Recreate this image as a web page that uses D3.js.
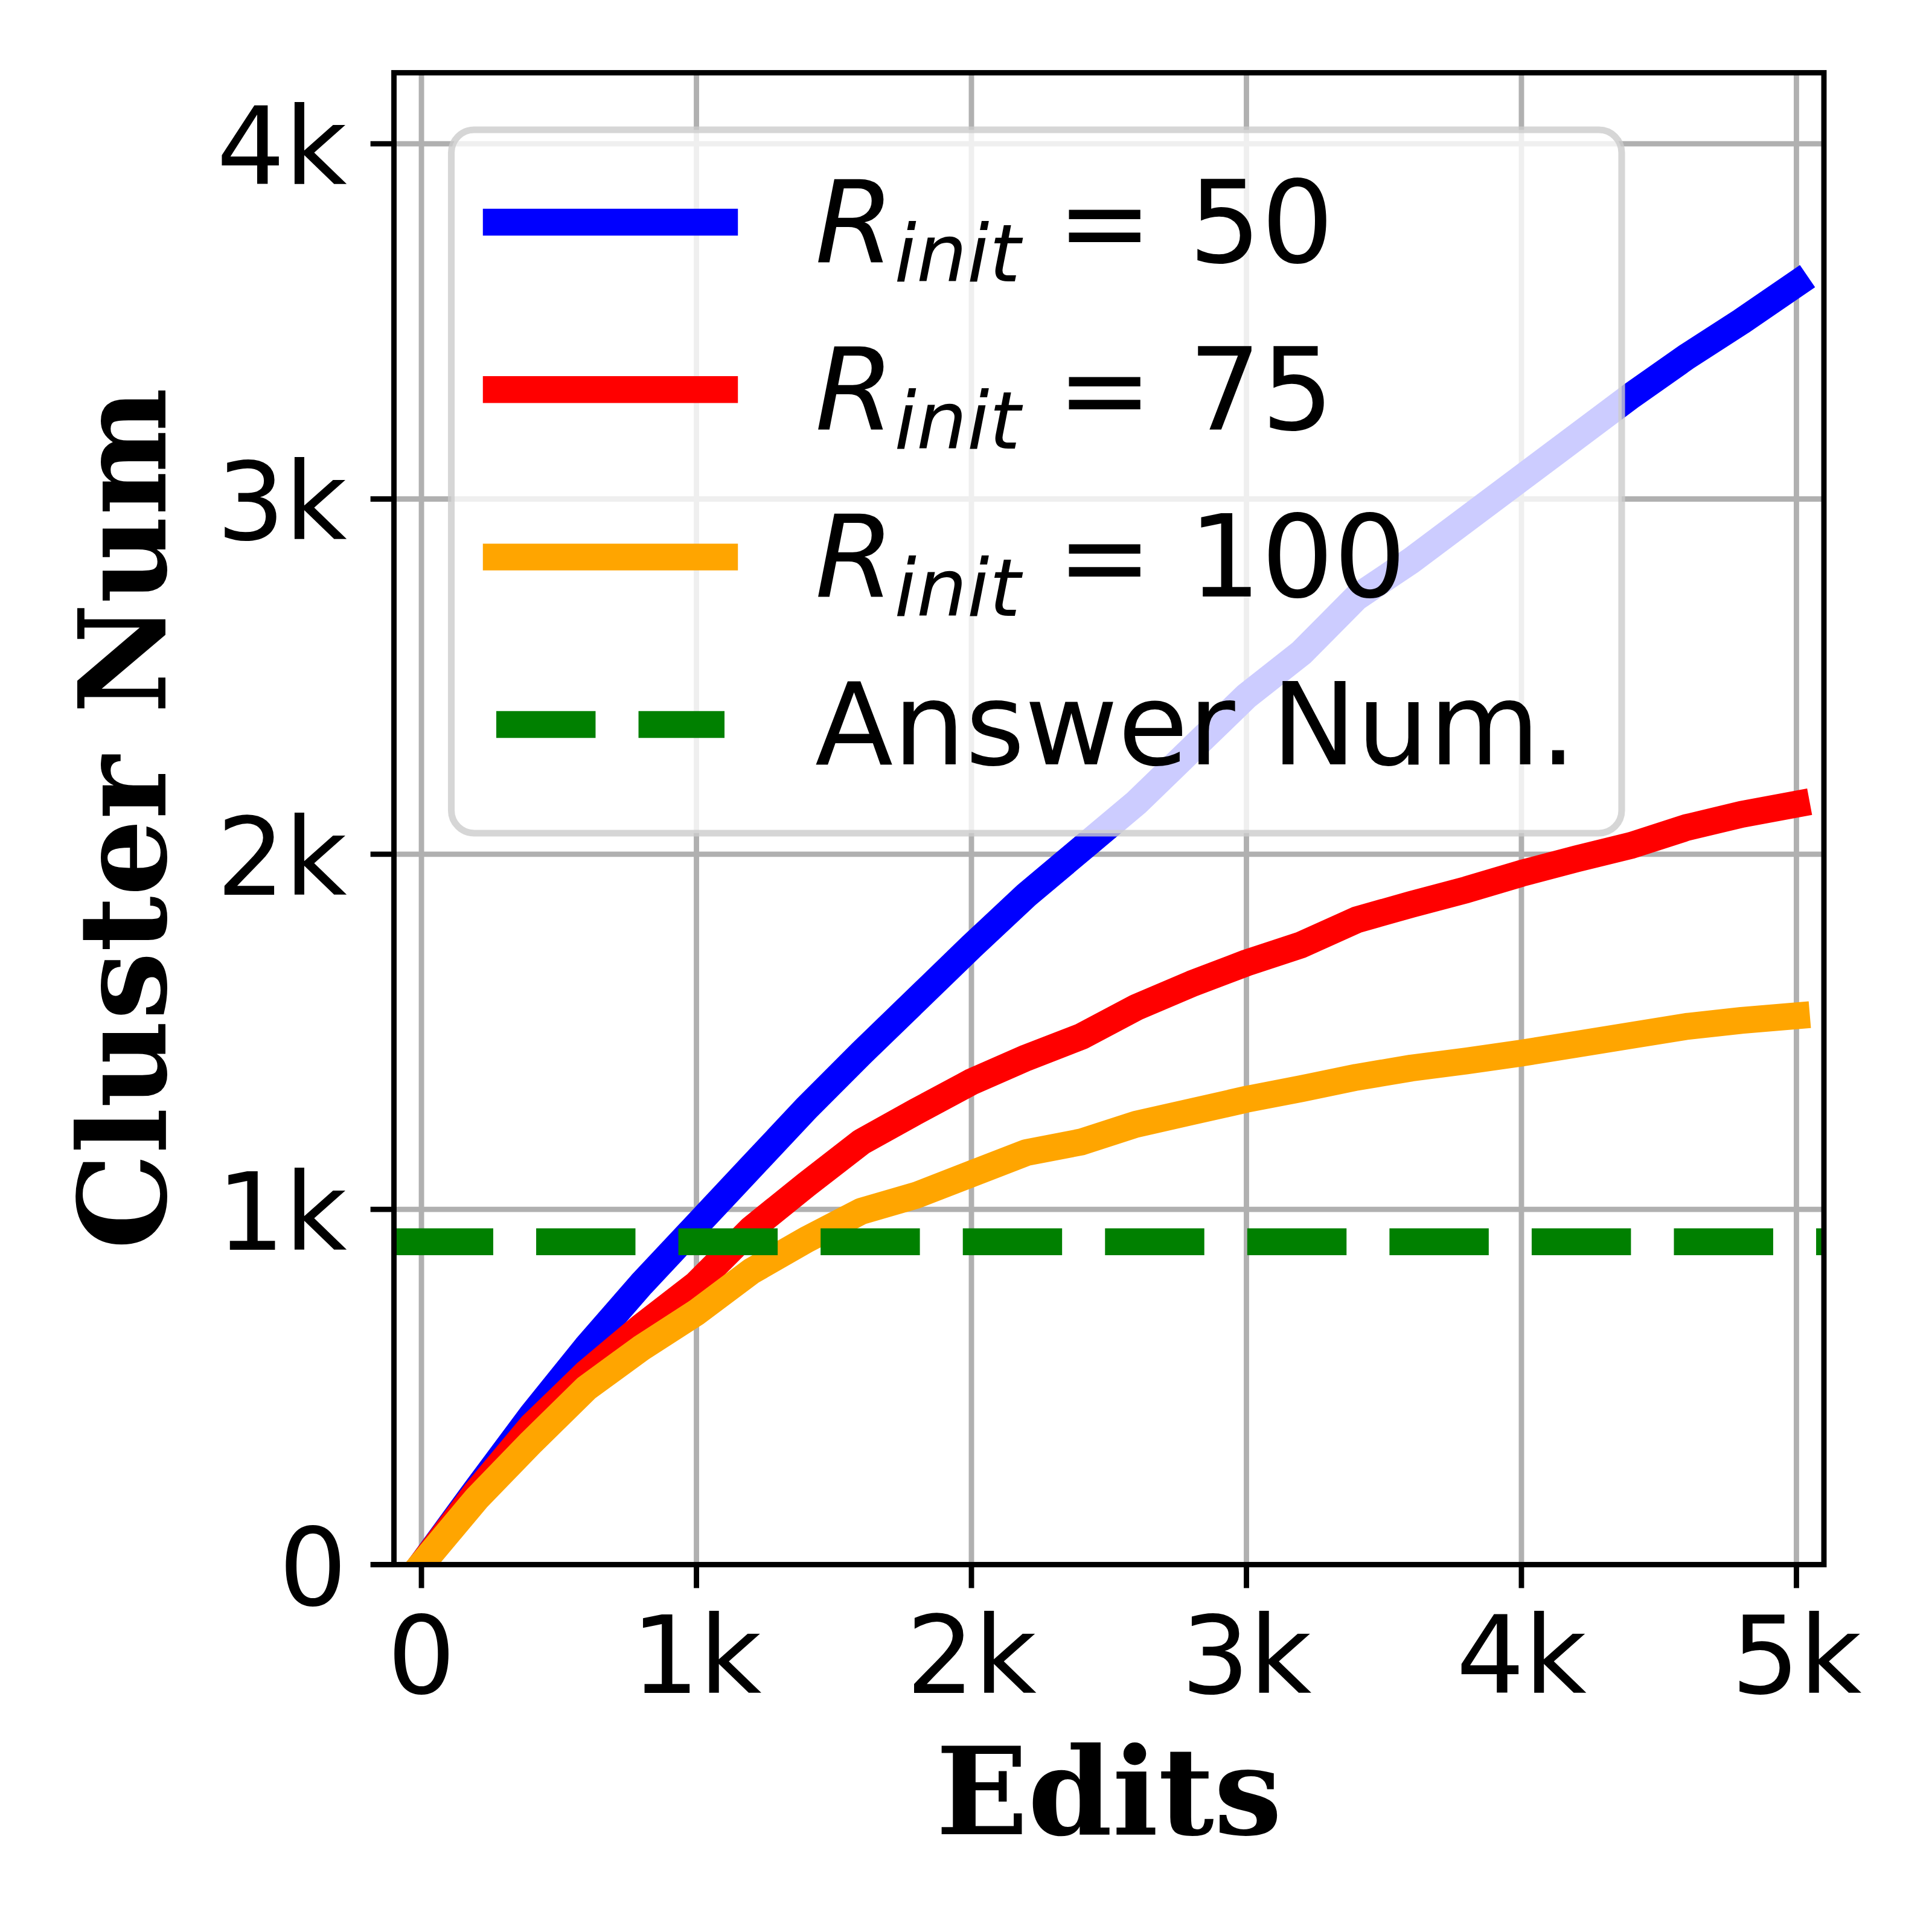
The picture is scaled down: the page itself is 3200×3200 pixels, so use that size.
<!DOCTYPE html>
<html><head><meta charset="utf-8">
<script src="https://cdn.jsdelivr.net/npm/d3@7"></script>
<style>html,body{margin:0;padding:0;background:#fff}</style>
</head><body>
<script>
// ---- data ----
const edits = [0,200,400,600,800,1000,1200,1400,1600,1800,2000,2200,2400,2600,2800,3000,3200,3400,3600,3800,4000,4200,4400,4600,4800,5000];
const rInit50  = [0,212,420,612,790,955,1120,1285,1440,1590,1740,1885,2015,2145,2295,2445,2567,2723,2827,2943,3059,3175,3291,3400,3500,3606];
const rInit75  = [0,205,390,540,670,790,945,1070,1190,1276,1359,1427,1487,1569,1635,1694,1745,1815,1859,1900,1946,1987,2025,2075,2112,2141];
const rInit100 = [0,185,345,497,610,710,826,915,995,1040,1100,1160,1190,1240,1275,1310,1340,1372,1398,1418,1440,1465,1490,1515,1532,1545];
const answerNum = 909;
const seriesLabels = ["50","75","100"];
const seriesColors = ["#0000ff","#ff0000","#ffa500"];
const answerLabel = "Answer Num.";
const answerColor = "#008000";
const xTickValues = [0,1000,2000,3000,4000,5000];
const xTickLabels = ["0","1k","2k","3k","4k","5k"];
const yTickValues = [0,1000,2000,3000,4000];
const yTickLabels = ["0","1k","2k","3k","4k"];
const xLabel = "Edits";
const yLabel = "Cluster Num";

// ---- layout ----
const PT = 800/72;
const W = 3200, H = 3200;
const L = 652.5, R = 3021, T = 120.5, B = 2591.5;
const x = d3.scaleLinear().domain([-100,5100]).range([L,R]);
const y = d3.scaleLinear().domain([0,4200]).range([B,T]);
const lw = 4*PT;

const svg = d3.select("body").append("svg").attr("width",W).attr("height",H)
  .style("display","block");
svg.append("rect").attr("width",W).attr("height",H).attr("fill","#fff");

svg.append("defs").append("clipPath").attr("id","clip")
  .append("rect").attr("x",L).attr("y",T).attr("width",R-L).attr("height",B-T);

// grid
const grid = svg.append("g").attr("clip-path","url(#clip)");
grid.selectAll("line.gx").data(xTickValues).join("line")
  .attr("x1",d=>x(d)).attr("x2",d=>x(d)).attr("y1",T).attr("y2",B)
  .attr("stroke","#b0b0b0").attr("stroke-width",0.8*PT);
grid.selectAll("line.gy").data(yTickValues).join("line")
  .attr("y1",d=>y(d)).attr("y2",d=>y(d)).attr("x1",L).attr("x2",R)
  .attr("stroke","#b0b0b0").attr("stroke-width",0.8*PT);

// lines
const plot = svg.append("g").attr("clip-path","url(#clip)");
const series = [rInit50, rInit75, rInit100];
const lineGen = d3.line().x((d,i)=>x(edits[i])).y(d=>y(d));
series.forEach((s,k)=>{
  plot.append("path").datum(s).attr("d",lineGen)
    .attr("fill","none").attr("stroke",seriesColors[k]).attr("stroke-width",lw)
    .attr("stroke-linejoin","round").attr("stroke-linecap","square");
});
plot.append("line").attr("x1",L).attr("x2",R).attr("y1",y(answerNum)).attr("y2",y(answerNum))
  .attr("stroke",answerColor).attr("stroke-width",lw)
  .attr("stroke-dasharray",`${3.7*lw},${1.6*lw}`).attr("stroke-linecap","butt");

// legend
const lg = svg.append("g");
const fsL = 17*PT;
lg.append("rect").attr("x",747.5).attr("y",215).attr("width",2686-747.5).attr("height",1380-215)
  .attr("rx",0.2*fsL).attr("ry",0.2*fsL)
  .attr("fill","#fff").attr("fill-opacity",0.8)
  .attr("stroke","#cccccc").attr("stroke-opacity",0.8).attr("stroke-width",1.0*PT);
const rowY = [368, 645.3, 922.6, 1200];
seriesLabels.forEach((lab,k)=>{
  lg.append("line").attr("x1",822).attr("x2",1200).attr("y1",rowY[k]).attr("y2",rowY[k])
    .attr("stroke",seriesColors[k]).attr("stroke-width",lw).attr("stroke-linecap","square");
  const t = lg.append("text").attr("x",1350).attr("y",rowY[k]+65.5)
    .attr("font-family","DejaVu Sans").attr("font-size",fsL).attr("fill","#000")
    .style("white-space","pre");
  t.append("tspan").attr("font-style","italic").text("R");
  t.append("tspan").attr("font-style","italic").attr("font-size",fsL*0.7).attr("dy",32).text("init");
  t.append("tspan").attr("dy",-32).text(" = " + lab);
});
lg.append("line").attr("x1",822).attr("x2",1200).attr("y1",rowY[3]).attr("y2",rowY[3])
  .attr("stroke",answerColor).attr("stroke-width",lw)
  .attr("stroke-dasharray",`${3.7*lw},${1.6*lw}`).attr("stroke-linecap","butt");
lg.append("text").attr("x",1350).attr("y",rowY[3]+65.5)
  .attr("font-family","DejaVu Sans").attr("font-size",fsL).attr("fill","#000").text(answerLabel);

// axes
const fsT = 16*PT;
const xAxis = d3.axisBottom(x).tickValues(xTickValues).tickFormat((d,i)=>xTickLabels[i])
  .tickSize(3.5*PT).tickPadding(3.5*PT).offset(0);
const yAxis = d3.axisLeft(y).tickValues(yTickValues).tickFormat((d,i)=>yTickLabels[i])
  .tickSize(3.5*PT).tickPadding(3.5*PT).offset(0);
const gx = svg.append("g").attr("transform",`translate(0,${B})`).call(xAxis);
const gy = svg.append("g").attr("transform",`translate(${L},0)`).call(yAxis);
[gx,gy].forEach(g=>{
  g.select(".domain").remove();
  g.selectAll(".tick line").attr("stroke","#000").attr("stroke-width",0.8*PT);
  g.selectAll(".tick text").attr("font-family","DejaVu Sans").attr("font-size",fsT).attr("fill","#000");
});
gx.selectAll(".tick text").attr("dy","0.76em");
gy.selectAll(".tick text").attr("dy","0.375em");

// spines
svg.append("rect").attr("x",L).attr("y",T).attr("width",R-L).attr("height",B-T)
  .attr("fill","none").attr("stroke","#000").attr("stroke-width",0.8*PT);

// axis labels
svg.append("text").attr("x",(L+R)/2).attr("y",3038).attr("text-anchor","middle")
  .attr("font-family","DejaVu Serif").attr("font-weight","bold").attr("font-size",18*PT)
  .attr("fill","#000").text(xLabel);
svg.append("text").attr("transform",`translate(274,${(T+B)/2}) rotate(-90)`).attr("text-anchor","middle")
  .attr("font-family","DejaVu Serif").attr("font-weight","bold").attr("font-size",18*PT)
  .attr("fill","#000").text(yLabel);
</script>
</body></html>
